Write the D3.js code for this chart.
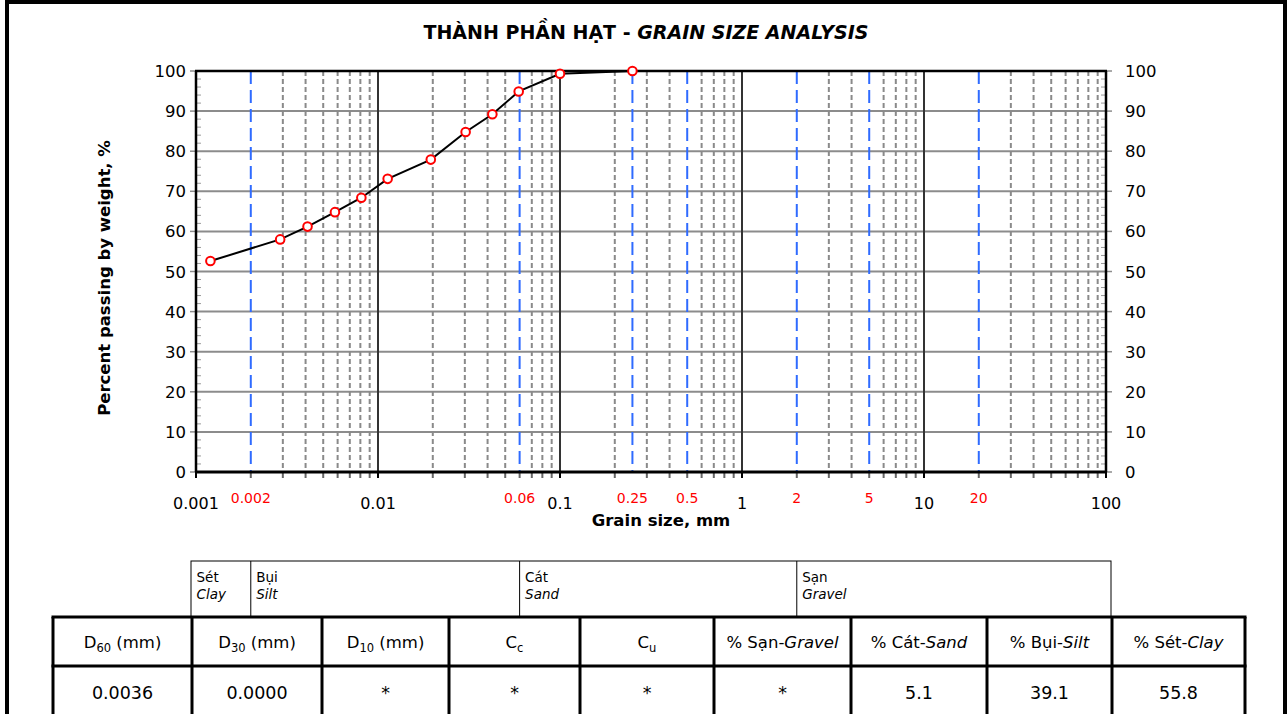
<!DOCTYPE html>
<html>
<head>
<meta charset="utf-8">
<script src="https://cdn.jsdelivr.net/npm/d3@7"></script>
<style>
  body { margin: 0; background: #fff; }
  svg { display: block; }
  text { font-family: "DejaVu Sans", "Noto Sans", sans-serif; fill: #000; }
</style>
</head>
<body>
<svg id="chart" width="1288" height="714"></svg>
<script>
// Sieve + hydrometer results: grain diameter (mm) and percent passing
const grainSizes     = [0.0012, 0.0029, 0.0041, 0.0058, 0.0081, 0.0113, 0.0195, 0.0303, 0.0425, 0.0593, 0.1, 0.25];
const percentPassing = [52.6,   58.0,   61.2,   64.8,   68.4,   73.1,   77.9,   84.8,   89.2,   94.9,   99.3, 100];

// Axis tick values
const decadeTicks    = [0.001, 0.01, 0.1, 1, 10, 100];
const decadeLabels   = ["0.001", "0.01", "0.1", "1", "10", "100"];
const boundaryTicks  = [0.002, 0.06, 0.25, 0.5, 2, 5, 20];
const boundaryLabels = ["0.002", "0.06", "0.25", "0.5", "2", "5", "20"];
const percentTicks   = [0, 10, 20, 30, 40, 50, 60, 70, 80, 90, 100];

// Soil fraction bands (limits in mm)
const bandNamesVi = ["Sét", "Bụi", "Cát", "Sạn"];
const bandNamesEn = ["Clay", "Silt", "Sand", "Gravel"];
const bandLimits  = [0.002, 0.06, 2];

// Summary table
const tableHeaders = [
  [["D"], ["60", "sub"], [" (mm)"]],
  [["D"], ["30", "sub"], [" (mm)"]],
  [["D"], ["10", "sub"], [" (mm)"]],
  [["C"], ["c", "sub"]],
  [["C"], ["u", "sub"]],
  [["% Sạn-"], ["Gravel", "it"]],
  [["% Cát-"], ["Sand", "it"]],
  [["% Bụi-"], ["Silt", "it"]],
  [["% Sét-"], ["Clay", "it"]]
];
const tableValues = ["0.0036", "0.0000", "*", "*", "*", "*", "5.1", "39.1", "55.8"];

const svg = d3.select("#chart");

const plot = { left: 196, right: 1106, top: 71, bottom: 472 };
const x = d3.scaleLog().domain([0.001, 100]).range([plot.left, plot.right]);
const y = d3.scaleLinear().domain([0, 100]).range([plot.bottom, plot.top]);

// page frame
svg.append("rect")
  .attr("x", 7).attr("y", 2).attr("width", 1278).attr("height", 760)
  .attr("fill", "none").attr("stroke", "#000").attr("stroke-width", 4);

// title
const title = svg.append("text")
  .attr("x", 646).attr("y", 39).attr("text-anchor", "middle")
  .style("font-size", "19px").style("font-weight", "bold");
title.append("tspan").text("THÀNH PHẦN HẠT - ");
title.append("tspan").style("font-style", "italic").text("GRAIN SIZE ANALYSIS");

// horizontal grid
svg.append("g").selectAll("line")
  .data(percentTicks.filter(v => v > 0 && v < 100))
  .join("line")
  .attr("x1", plot.left).attr("x2", plot.right)
  .attr("y1", d => y(d)).attr("y2", d => y(d))
  .attr("stroke", "#8c8c8c").attr("stroke-width", 2);

// minor vertical grid (2..9 within each decade)
const isBoundary = v => boundaryTicks.some(b => Math.abs(b - v) / b < 1e-6);
const minorTicks = [];
decadeTicks.slice(0, -1).forEach(d => {
  for (let k = 2; k <= 9; k++) minorTicks.push(+(k * d).toPrecision(6));
});
svg.append("g").selectAll("line")
  .data(minorTicks.filter(v => !isBoundary(v)))
  .join("line")
  .attr("x1", d => x(d)).attr("x2", d => x(d))
  .attr("y1", plot.top).attr("y2", plot.bottom)
  .attr("stroke", "#8a8a8a").attr("stroke-width", 2)
  .attr("stroke-dasharray", "5,3");

// decade lines
svg.append("g").selectAll("line")
  .data(decadeTicks.slice(1, -1))
  .join("line")
  .attr("x1", d => x(d)).attr("x2", d => x(d))
  .attr("y1", plot.top).attr("y2", plot.bottom)
  .attr("stroke", "#333").attr("stroke-width", 2);

// fraction boundary lines
svg.append("g").selectAll("line")
  .data(boundaryTicks)
  .join("line")
  .attr("x1", d => x(d)).attr("x2", d => x(d))
  .attr("y1", plot.top).attr("y2", plot.bottom)
  .attr("stroke", "#2f6bff").attr("stroke-width", 2)
  .attr("stroke-dasharray", "13,6");

// bottom ticks
svg.append("g").selectAll("line")
  .data(minorTicks.concat(decadeTicks))
  .join("line")
  .attr("x1", d => x(d)).attr("x2", d => x(d))
  .attr("y1", plot.bottom).attr("y2", plot.bottom + 6)
  .attr("stroke", d => decadeTicks.includes(d) ? "#000" : "#666")
  .attr("stroke-width", 2);

// vertical axis ticks, both sides
const minorPercent = d3.range(0, 101, 2).filter(v => v % 10 !== 0);
[[plot.left, -1], [plot.right, 1]].forEach(([ax, dir]) => {
  svg.append("g").selectAll("line")
    .data(percentTicks).join("line")
    .attr("x1", ax).attr("x2", ax + dir * 6)
    .attr("y1", d => y(d)).attr("y2", d => y(d))
    .attr("stroke", "#8c8c8c").attr("stroke-width", 1.5);
  svg.append("g").selectAll("line")
    .data(minorPercent).join("line")
    .attr("x1", ax).attr("x2", ax - dir * 5)
    .attr("y1", d => y(d)).attr("y2", d => y(d))
    .attr("stroke", "#9a9a9a").attr("stroke-width", 1);
});

// plot frame
svg.append("line").attr("x1", plot.left - 1).attr("x2", plot.right + 1)
  .attr("y1", plot.top).attr("y2", plot.top).attr("stroke", "#000").attr("stroke-width", 2.5);
svg.append("line").attr("x1", plot.left - 1).attr("x2", plot.right + 1)
  .attr("y1", plot.bottom).attr("y2", plot.bottom).attr("stroke", "#000").attr("stroke-width", 3);
svg.append("line").attr("x1", plot.left).attr("x2", plot.left)
  .attr("y1", plot.top).attr("y2", plot.bottom).attr("stroke", "#000").attr("stroke-width", 2.5);
svg.append("line").attr("x1", plot.right).attr("x2", plot.right)
  .attr("y1", plot.top).attr("y2", plot.bottom).attr("stroke", "#000").attr("stroke-width", 2.5);

// percent labels
svg.append("g").selectAll("text")
  .data(percentTicks).join("text")
  .attr("x", plot.left - 10).attr("y", d => y(d) + 6)
  .attr("text-anchor", "end").style("font-size", "16.5px")
  .text(d => d);
svg.append("g").selectAll("text")
  .data(percentTicks).join("text")
  .attr("x", plot.right + 19).attr("y", d => y(d) + 6)
  .attr("text-anchor", "start").style("font-size", "16.5px")
  .text(d => d);

// grain size labels
svg.append("g").selectAll("text")
  .data(decadeTicks).join("text")
  .attr("x", d => x(d)).attr("y", 509)
  .attr("text-anchor", "middle").style("font-size", "16px")
  .text((d, i) => decadeLabels[i]);
svg.append("g").selectAll("text")
  .data(boundaryTicks).join("text")
  .attr("x", d => x(d)).attr("y", 503)
  .attr("text-anchor", "middle").style("font-size", "14px")
  .style("fill", "#ff0000")
  .text((d, i) => boundaryLabels[i]);

// axis titles
svg.append("text")
  .attr("x", 661).attr("y", 526).attr("text-anchor", "middle")
  .style("font-size", "16.5px").style("font-weight", "bold")
  .text("Grain size, mm");
svg.append("text")
  .attr("transform", "translate(110,278) rotate(-90)")
  .attr("text-anchor", "middle")
  .style("font-size", "16.5px").style("font-weight", "bold")
  .text("Percent passing by weight, %");

// grading curve
const pts = grainSizes.map((g, i) => [g, percentPassing[i]]);
svg.append("path")
  .datum(pts)
  .attr("fill", "none").attr("stroke", "#000").attr("stroke-width", 2)
  .attr("d", d3.line().x(d => x(d[0])).y(d => y(d[1])));
svg.append("g").selectAll("circle")
  .data(pts).join("circle")
  .attr("cx", d => x(d[0])).attr("cy", d => y(d[1])).attr("r", 4.3)
  .attr("fill", "#fff").attr("stroke", "#ff0000").attr("stroke-width", 2);

// fraction band strip
const band = { left: plot.left - 5, right: plot.right + 5, top: 561, bottom: 617 };
const bandEdges = [band.left].concat(bandLimits.map(b => x(b)), [band.right]);
svg.append("rect")
  .attr("x", band.left).attr("y", band.top)
  .attr("width", band.right - band.left).attr("height", band.bottom - band.top)
  .attr("fill", "none").attr("stroke", "#000").attr("stroke-width", 1);
svg.append("g").selectAll("line")
  .data(bandLimits).join("line")
  .attr("x1", d => x(d)).attr("x2", d => x(d))
  .attr("y1", band.top).attr("y2", band.bottom)
  .attr("stroke", "#000").attr("stroke-width", 1);
const bandText = svg.append("g").selectAll("text")
  .data(bandNamesVi).join("text")
  .style("font-size", "13.5px");
bandText.append("tspan").attr("y", 582).attr("x", (d, i) => bandEdges[i] + 5.5).text(d => d);
bandText.append("tspan").attr("y", 599).attr("x", (d, i) => bandEdges[i] + 5.5)
  .style("font-style", "italic").text((d, i) => bandNamesEn[i]);

// summary table
const cols = [53, 192, 322, 449, 580, 714, 851, 987, 1112, 1245];
const rows = [617, 666, 716];
const tbl = svg.append("g");
rows.forEach(r => tbl.append("line")
  .attr("x1", cols[0] - 1.5).attr("x2", cols[cols.length - 1] + 1.5)
  .attr("y1", r).attr("y2", r).attr("stroke", "#000").attr("stroke-width", 3));
cols.forEach(c => tbl.append("line")
  .attr("x1", c).attr("x2", c).attr("y1", rows[0]).attr("y2", rows[2])
  .attr("stroke", "#000").attr("stroke-width", 3));

tbl.selectAll("text.h")
  .data(tableHeaders).join("text")
  .attr("class", "h")
  .attr("x", (d, i) => (cols[i] + cols[i + 1]) / 2)
  .attr("y", 648)
  .attr("text-anchor", "middle")
  .style("font-size", "16.5px")
  .each(function (parts) {
    const t = d3.select(this);
    let prevKind = null;
    parts.forEach(([s, kind]) => {
      const sp = t.append("tspan").text(s);
      if (kind === "sub") sp.style("font-size", "11.5px").attr("dy", 4);
      else if (prevKind === "sub") sp.attr("dy", -4);
      if (kind === "it") sp.style("font-style", "italic");
      prevKind = kind;
    });
  });

tbl.selectAll("text.v")
  .data(tableValues).join("text")
  .attr("class", "v")
  .attr("x", (d, i) => (cols[i] + cols[i + 1]) / 2)
  .attr("y", 699)
  .attr("text-anchor", "middle")
  .style("font-size", "17.5px")
  .text(d => d);
</script>
</body>
</html>
